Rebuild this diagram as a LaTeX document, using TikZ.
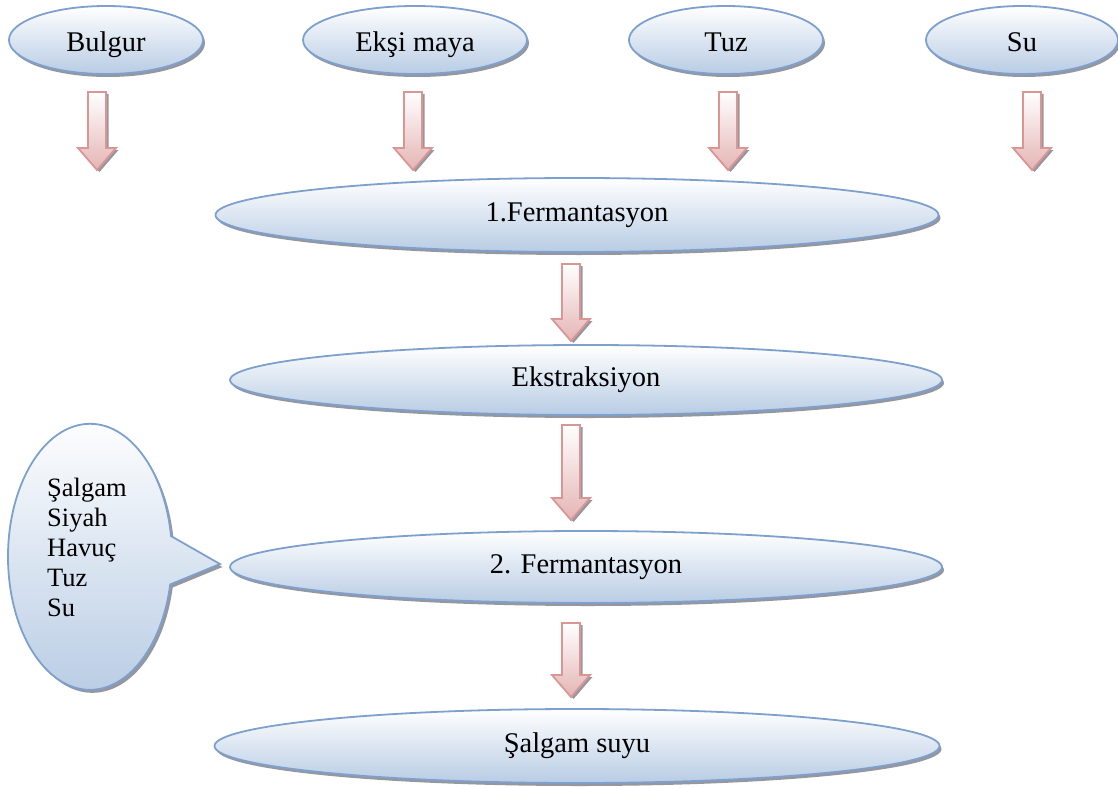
\documentclass[tikz,border=0pt]{standalone}
\usepackage{fontspec}
\setmainfont{Liberation Serif}
\usetikzlibrary{shapes.geometric,shadows}
\definecolor{ellblue}{RGB}{125,160,205}
\definecolor{ellfill}{RGB}{184,204,228}
\definecolor{arrowpink}{RGB}{229,180,180}
\definecolor{arrowline}{RGB}{217,150,148}
\definecolor{shadowgray}{RGB}{150,150,158}
\newcommand\mainsz{\fontsize{28.5}{32}\selectfont}
\newcommand\cosz{\fontsize{26.5}{30}\selectfont}
\tikzset{
  ell/.style={ellipse, draw=ellblue, line width=1.8pt, top color=white, bottom color=ellfill,
    general shadow={fill=shadowgray, shadow xshift=2pt, shadow yshift=-3pt},
    font=\mainsz, text=black, inner sep=0pt},
  topell/.style={ell, minimum height=68pt, text height=30pt, text depth=6pt},
  pics/barrow/.style={code={
    \fill[shadowgray, shift={(2.5,2)}] (-9,0) -- (9,0) -- (9,{#1-22}) -- (19,{#1-22}) -- (0,#1) -- (-19,{#1-22}) -- (-9,{#1-22}) -- cycle;
    \shade[top color=white, bottom color=arrowpink, draw=arrowline, line width=1.8pt, line join=miter]
      (-9,0) -- (9,0) -- (9,{#1-22}) -- (19,{#1-22}) -- (0,#1) -- (-19,{#1-22}) -- (-9,{#1-22}) -- cycle;
  }},
  callout/.style={top color=white, bottom color=ellfill, draw=ellblue, line width=1.8pt, line join=miter}
}
\begin{document}
\begin{tikzpicture}[x=1pt,y=-1pt]
\useasboundingbox (0,0) rectangle (1118,789);
% top ingredients
\node[topell, minimum width=194pt] (bulgur) at (106,40) {Bulgur};
\node[topell, minimum width=224pt] (eksi) at (415,40) {Ekşi maya};
\node[topell, minimum width=194pt] (tuz) at (726,40) {Tuz};
\node[topell, minimum width=192pt] (su) at (1022,40) {Su};
% process steps
\node[ell, minimum width=723pt, minimum height=74pt] (f1) at (577,215) {1.Fermantasyon};
\node[ell, minimum width=712pt, minimum height=70pt] (ekst) at (586,380) {Ekstraksiyon};
\node[ell, minimum width=712pt, minimum height=72pt] (f2) at (586,567) {2. Fermantasyon};
\node[ell, minimum width=725pt, minimum height=74pt] (salgam) at (577,746) {Şalgam suyu};
% block arrows
\pic at (97,92) {barrow=78};
\pic at (413,92) {barrow=78};
\pic at (728,92) {barrow=78};
\pic at (1032,92) {barrow=78};
\pic at (571,264) {barrow=77};
\pic at (571,425) {barrow=95};
\pic at (571,623) {barrow=74};
% callout
\fill[shadowgray, shift={(2.5,3)}] (171,536) arc[start angle=-9, end angle=-348, x radius=82, y radius=133] -- (220,564) -- cycle;
\shade[callout] (171,536) arc[start angle=-9, end angle=-348, x radius=82, y radius=133] -- (220,564) -- cycle;
\node[anchor=north west, align=left, inner sep=0pt, font=\cosz] (ing) at (47,478) {Şalgam\\Siyah\\Havuç\\Tuz\\Su};
\end{tikzpicture}
\end{document}
